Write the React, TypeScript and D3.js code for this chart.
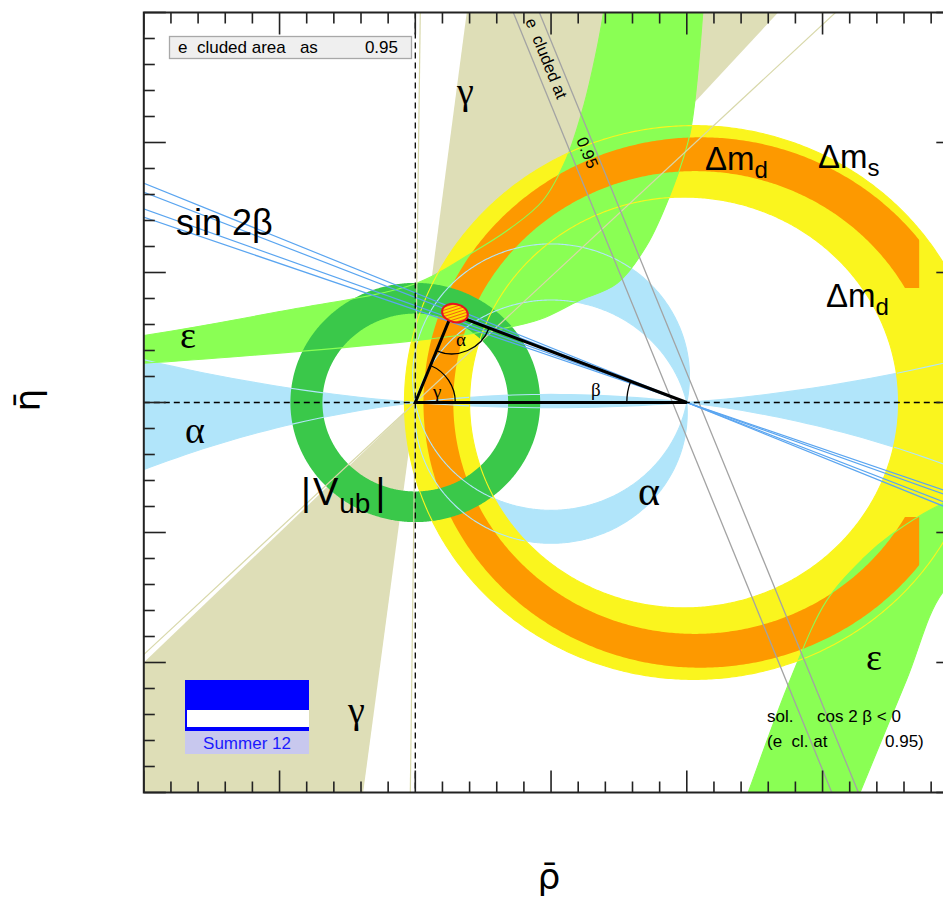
import React from 'react';
import * as d3 from 'd3';

const W = 943;
const H = 899;

// constraint shapes in (rho-bar, eta-bar) units
const gammaCones = [[48.3, 82.8], [225.0, 262.7]]; // degrees, apex at (0,0)
const gammaLines = [44.1, 89.3];
const alphaAxisK = [6.15, -4.0]; // circles through (0,0),(1,0), centre (0.5,k)
const alphaUpperK = [0.1, -0.12];
const alphaLowerK = [-0.04, 0.094];
const dmdRings = [[0.99, 0.79], [1.025, 1.065]]; // [centre rho, radius] inner / outer
const dmsRings = [[1.03, 0.89], [1.05, 1.02]];
const dmsCut = [1.6, 1.856, 0.44]; // orange band stops at rho 1.856 when |eta| < 0.44
const vubRadii = [0.342, 0.46]; // centre (0,0)
const epsUpperHigh = [[-1.1, 0.245], [-1, 0.258], [-0.5, 0.35], [0, 0.457], [0.2, 0.57], [0.35, 0.67], [0.47, 0.777], [0.557, 0.94], [0.62, 1.14], [0.663, 1.33], [0.693, 1.5], [0.705, 1.6]];
const epsUpperLow = [[-1.1, 0.147], [-1, 0.151], [-0.5, 0.19], [0, 0.238], [0.3, 0.28], [0.46, 0.32], [0.6, 0.39], [0.743, 0.458], [0.85, 0.6], [0.95, 0.83], [1.012, 1.035], [1.059, 1.5], [1.065, 1.6]];
const epsLowerLeft = [[1.19, -1.6], [1.226, -1.5], [1.38, -1.069], [1.515, -0.762], [1.65, -0.6], [1.759, -0.504], [1.943, -0.388], [2.1, -0.33]];
const epsLowerRight = [[1.6, -1.6], [1.638, -1.5], [1.81, -1.065], [1.943, -0.73], [2.1, -0.6]];
const sin2bAngles = [19.62, 20.43, 22.02, 22.87]; // lines through (1,0)
const cos2bLines = [[0.361, 1.5, 1.534, -1.5], [0.457, 1.5, 1.632, -1.5]];
const apex = [0.134, 0.341];
const fitCentre = [0.146, 0.344];
const fitSize = [0.048, 0.035];

const sans = 'Liberation Sans, Arial, sans-serif';
const serif = 'Liberation Serif, Times New Roman, serif';

const col = {
  gamma: '#dedeb7',
  alpha: '#b1e5fa',
  dmd: '#faf51e',
  dms: '#fd9900',
  eps: '#8aff54',
  vub: '#3ac84a',
  sin2b: '#5aa5f0',
};

function circlePts(cx: number, cy: number, r: number) {
  return d3.range(0, 721).map((i) => [cx + r * Math.cos((i * Math.PI) / 360), cy + r * Math.sin((i * Math.PI) / 360)]);
}

function arcPts(k: number, upper: boolean) {
  const r = Math.sqrt(0.25 + k * k);
  const t0 = Math.asin(-k / r);
  const a = upper ? t0 : Math.PI - t0;
  const b = upper ? Math.PI - t0 : 2 * Math.PI + t0;
  return d3.range(0, 301).map((i) => {
    const t = a + ((b - a) * i) / 300;
    return [0.5 + r * Math.cos(t), k + r * Math.sin(t)];
  });
}

export default function App() {
  const x = d3.scaleLinear().domain([-1, 2]).range([143.8, 958.3]);
  const y = d3.scaleLinear().domain([-1.5, 1.5]).range([792.5, 12.5]);

  const poly = (pts: number[][]) =>
    pts.map((p, i) => (i ? 'L' : 'M') + x(p[0]).toFixed(2) + ',' + y(p[1]).toFixed(2)).join('') + 'Z';
  const smooth = d3
    .line<number[]>()
    .x((p) => x(p[0]))
    .y((p) => y(p[1]))
    .curve(d3.curveCatmullRom.alpha(0.5));
  const band = (a: number[][], b: number[][]) =>
    (smooth(a) as string) + (smooth(b.slice().reverse()) as string).replace(/^M/, 'L') + 'Z';

  const bigRect = `M${x(-1.3)},${y(1.8)}H${x(2.3)}V${y(-1.8)}H${x(-1.3)}Z`;
  const alphaAxisPath = bigRect + alphaAxisK.map((k) => poly(circlePts(0.5, k, Math.sqrt(0.25 + k * k)))).join('');
  const alphaUpper = poly(arcPts(alphaUpperK[0], true).concat(arcPts(alphaUpperK[1], true).reverse()));
  const alphaLower = poly(arcPts(alphaLowerK[0], false).concat(arcPts(alphaLowerK[1], false).reverse()));

  const ring = (rings: number[][]) => rings.map((c) => poly(circlePts(c[0], 0, c[1]))).join('');
  const dmdPath = ring(dmdRings);
  const dmsPath = ring(dmsRings);
  const vubPath = vubRadii.map((r) => poly(circlePts(0, 0, r))).join('');

  const epsUp = band(epsUpperHigh, epsUpperLow);
  const epsDown = band(epsLowerLeft, epsLowerRight);

  const R = 6;
  const rad = (d: number) => (d * Math.PI) / 180;
  const gammaPaths = gammaCones.map(([a1, a2]) =>
    poly([[0, 0], [R * Math.cos(rad(a1)), R * Math.sin(rad(a1))], [R * Math.cos(rad(a2)), R * Math.sin(rad(a2))]])
  );

  // ticks
  const xt = d3.range(-10, 21).map((i) => i / 10);
  const yt = d3.range(-15, 16).map((i) => i / 10);
  const isMajor = (v: number) => Math.abs(v * 2 - Math.round(v * 2)) < 1e-6;

  // triangle and angle arcs (pixel space)
  const O = [x(0), y(0)];
  const B = [x(1), y(0)];
  const A = [x(apex[0]), y(apex[1])];
  const ang = (p: number[], q: number[]) => Math.atan2(q[1] - p[1], q[0] - p[0]);
  const arcG = d3.path();
  arcG.arc(O[0], O[1], 40, 0, ang(O, A), true);
  const arcA = d3.path();
  arcA.arc(A[0], A[1], 40, ang(A, O), ang(A, B), true);
  const arcB = d3.path();
  arcB.arc(B[0], B[1], 60, Math.PI, ang(B, A), false);

  const fx = x(fitCentre[0]);
  const fy = y(fitCentre[1]);
  const frx = x(fitSize[0]) - x(0);
  const fry = y(0) - y(fitSize[1]);

  return (
    <svg width={W} height={H} style={{ position: 'absolute', left: 0, top: 0, background: '#fff' }}>
      <defs>
        <clipPath id="plotArea">
          <rect x={x(-1)} y={y(1.5)} width={x(2) - x(-1)} height={y(-1.5) - y(1.5)} />
        </clipPath>
        <clipPath id="dmsClip">
          <rect x={x(-1.2)} y={y(1.7)} width={x(dmsCut[0]) - x(-1.2)} height={y(-1.7) - y(1.7)} />
          <rect x={x(dmsCut[0]) - 1} y={y(1.7)} width={x(dmsCut[1]) - x(dmsCut[0]) + 1} height={y(dmsCut[2]) - y(1.7)} />
          <rect x={x(dmsCut[0]) - 1} y={y(-dmsCut[2])} width={x(dmsCut[1]) - x(dmsCut[0]) + 1} height={y(-1.7) - y(-dmsCut[2])} />
        </clipPath>
        <pattern id="hatch" width="3" height="3" patternUnits="userSpaceOnUse" patternTransform="rotate(60)">
          <rect width="3" height="3" fill="#ffdd00" />
          <line x1="0" y1="0" x2="0" y2="3" stroke="#e8141e" strokeWidth="1.2" />
        </pattern>
      </defs>

      <g clipPath="url(#plotArea)">
        {gammaPaths.map((d, i) => (
          <path key={'g' + i} d={d} fill={col.gamma} />
        ))}
        <path d={alphaAxisPath} fill={col.alpha} fillRule="evenodd" />
        <path d={alphaUpper} fill={col.alpha} />
        <path d={alphaLower} fill={col.alpha} />
        <path d={dmdPath} fill={col.dmd} fillRule="evenodd" />
        <path d={epsUp} fill={col.eps} />
        <path d={epsDown} fill={col.eps} />
        <path d={dmsPath} fill={col.dms} fillRule="evenodd" clipPath="url(#dmsClip)" />
        <path d={vubPath} fill={col.vub} fillRule="evenodd" />

        {/* contour outlines on top */}
        {alphaAxisK.map((k, i) => (
          <path key={'ak' + i} d={poly(circlePts(0.5, k, Math.sqrt(0.25 + k * k)))} fill="none" stroke={col.alpha} strokeWidth={1.1} />
        ))}
        <path d={alphaUpper} fill="none" stroke={col.alpha} strokeWidth={1.1} />
        <path d={alphaLower} fill="none" stroke={col.alpha} strokeWidth={1.1} />
        <path d={epsUp} fill="none" stroke={col.eps} strokeWidth={1.1} />
        <path d={epsDown} fill="none" stroke={col.eps} strokeWidth={1.1} />
        <path d={dmdPath} fill="none" stroke={col.dmd} strokeWidth={1.1} />
        {gammaLines.map((a, i) => (
          <line
            key={'gl' + i}
            x1={x(-R * Math.cos(rad(a)))}
            y1={y(-R * Math.sin(rad(a)))}
            x2={x(R * Math.cos(rad(a)))}
            y2={y(R * Math.sin(rad(a)))}
            stroke="#d8d8aa"
            strokeWidth={1.2}
          />
        ))}

        {cos2bLines.map((l, i) => (
          <line key={'c' + i} x1={x(l[0])} y1={y(l[1])} x2={x(l[2])} y2={y(l[3])} stroke="#a3a3a3" strokeWidth={1.3} />
        ))}
        {sin2bAngles.map((a, i) => (
          <line
            key={'s' + i}
            x1={x(-1.2)}
            y1={y(2.2 * Math.tan(rad(a)))}
            x2={x(2.2)}
            y2={y(-1.2 * Math.tan(rad(a)))}
            stroke={col.sin2b}
            strokeWidth={1.2}
          />
        ))}

        <line x1={x(-1)} y1={y(0)} x2={x(2)} y2={y(0)} stroke="#000" strokeWidth={1.3} strokeDasharray="6,4" />
        <line x1={x(0)} y1={y(1.5)} x2={x(0)} y2={y(-1.5)} stroke="#000" strokeWidth={1.3} strokeDasharray="6,4" />

        <path d={`M${O[0]},${O[1]}L${B[0]},${B[1]}L${A[0]},${A[1]}Z`} fill="none" stroke="#000" strokeWidth={3} strokeLinejoin="miter" />
        <path d={arcG.toString()} fill="none" stroke="#000" strokeWidth={1.3} />
        <path d={arcA.toString()} fill="none" stroke="#000" strokeWidth={1.3} />
        <path d={arcB.toString()} fill="none" stroke="#000" strokeWidth={1.3} />
        <ellipse cx={fx} cy={fy} rx={frx} ry={fry} transform={`rotate(12 ${fx} ${fy})`} fill="url(#hatch)" stroke="#e8141e" strokeWidth={2} />
      </g>

      {/* frame and ticks */}
      <rect x={x(-1)} y={y(1.5)} width={x(2) - x(-1)} height={y(-1.5) - y(1.5)} fill="none" stroke="#222" strokeWidth={2} />
      {xt.map((v) => {
        const L = isMajor(v) ? 22 : 11;
        return (
          <g key={'xt' + v} stroke="#222" strokeWidth={1.6}>
            <line x1={x(v)} x2={x(v)} y1={y(1.5)} y2={y(1.5) + L} />
            <line x1={x(v)} x2={x(v)} y1={y(-1.5)} y2={y(-1.5) - L} />
          </g>
        );
      })}
      {yt.map((v) => {
        const L = isMajor(v) ? 22 : 11;
        return (
          <g key={'yt' + v} stroke="#222" strokeWidth={1.6}>
            <line x1={x(-1)} x2={x(-1) + L} y1={y(v)} y2={y(v)} />
            <line x1={x(2)} x2={x(2) - L} y1={y(v)} y2={y(v)} />
          </g>
        );
      })}

      {/* legend box */}
      <rect x={169.5} y={36.5} width={242} height={22} fill="#efefef" stroke="#a8a8a8" strokeWidth={1.3} />
      <text x={178} y={53} fontFamily={sans} fontSize={17} style={{ whiteSpace: 'pre' }}>
        {'e  cluded area   as'}
      </text>
      <text x={398} y={53} fontFamily={sans} fontSize={17} textAnchor="end">
        0.95
      </text>

      {/* rotated excluded text */}
      <text transform="translate(525,21) rotate(67.8)" fontFamily={sans} fontSize={16.5} style={{ whiteSpace: 'pre' }}>
        {'e  cluded at'}
      </text>
      <text transform="translate(576,140) rotate(67.8)" fontFamily={sans} fontSize={16.5}>
        0.95
      </text>

      {/* constraint labels */}
      <text x={457} y={104} fontFamily={serif} fontSize={38}>γ</text>
      <text x={348} y={723} fontFamily={serif} fontSize={38}>γ</text>
      <text x={180} y={348} fontFamily={serif} fontSize={38}>ε</text>
      <text x={866} y={670} fontFamily={serif} fontSize={38}>ε</text>
      <text x={185} y={443} fontFamily={serif} fontSize={38}>α</text>
      <text x={638} y={505} fontFamily={serif} fontSize={42}>α</text>
      <text x={176} y={235} fontFamily={sans} fontSize={36}>sin 2β</text>
      <text x={301} y={505} fontFamily={sans} fontSize={38}>
        |<tspan dx={2}>V</tspan>
        <tspan dy={8} dx={1} fontSize={28}>ub</tspan>
        <tspan dy={-8} dx={5}>|</tspan>
      </text>
      <text x={705} y={170} fontFamily={sans} fontSize={33}>
        Δm<tspan dy={8} fontSize={24}>d</tspan>
      </text>
      <text x={818} y={168} fontFamily={sans} fontSize={33}>
        Δm<tspan dy={8} fontSize={24}>s</tspan>
      </text>
      <text x={826} y={307} fontFamily={sans} fontSize={33}>
        Δm<tspan dy={8} fontSize={24}>d</tspan>
      </text>

      {/* triangle angle labels */}
      <text x={456} y={346} fontFamily={serif} fontSize={19}>α</text>
      <text x={433} y={398} fontFamily={serif} fontSize={19}>γ</text>
      <text x={591} y={396} fontFamily={serif} fontSize={19}>β</text>

      {/* cos 2 beta note */}
      <text x={767} y={722} fontFamily={sans} fontSize={17}>sol.</text>
      <text x={817} y={722} fontFamily={sans} fontSize={17}>cos 2 β &lt; 0</text>
      <text x={767} y={747} fontFamily={sans} fontSize={17} style={{ whiteSpace: 'pre' }}>
        {'(e  cl. at'}
      </text>
      <text x={885} y={747} fontFamily={sans} fontSize={17}>0.95)</text>

      {/* logo */}
      <rect x={185} y={680} width={124} height={51} fill="#0000ff" />
      <rect x={187} y={710} width={122} height={17} fill="#fff" />
      <rect x={185} y={731} width={124} height={23} fill="#c8c8ee" />
      <text x={247} y={749} fontFamily={sans} fontSize={17} fill="#1a1aff" textAnchor="middle">
        Summer 12
      </text>

      {/* axis titles */}
      <text x={549} y={889} fontFamily="DejaVu Sans, sans-serif" fontSize={36} textAnchor="middle">
        ρ̄
      </text>
      <text transform="translate(40,400) rotate(-90)" fontFamily="DejaVu Sans, sans-serif" fontSize={36} textAnchor="middle">
        η̄
      </text>
    </svg>
  );
}
